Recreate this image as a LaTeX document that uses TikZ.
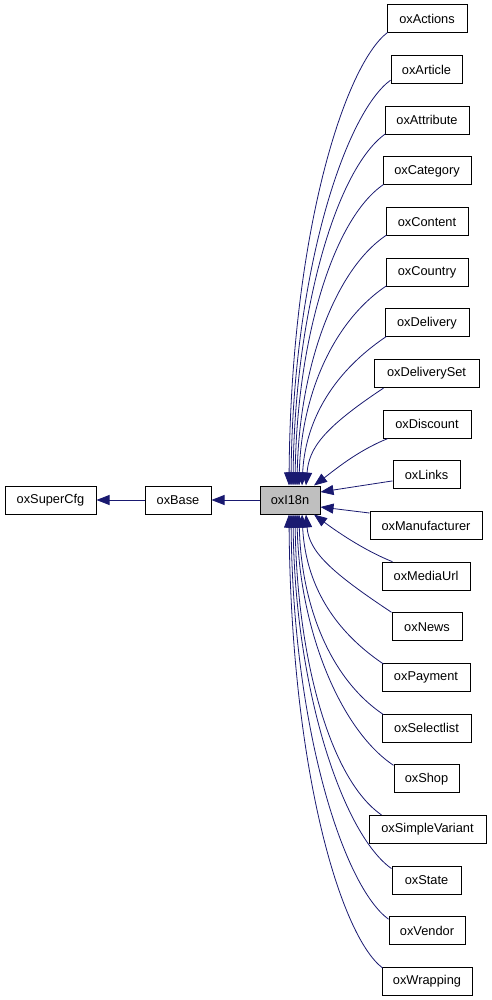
\documentclass[tikz,border=0pt]{standalone}
\usepackage{fontspec}
\setmainfont{Liberation Sans}
\usetikzlibrary{arrows.meta,calc}
\definecolor{navyc}{HTML}{191970}
\definecolor{grayc}{HTML}{BFBFBF}
\tikzset{
  box/.style={draw=black, line width=1pt, minimum height=28pt, inner sep=0pt,
    font=\fontsize{12.8}{14}\selectfont, text=black, fill=white},
  edge/.style={draw=navyc, line width=0.8pt, -{Triangle[length=13pt,width=10pt]}}
}
\begin{document}
\begin{tikzpicture}[x=1pt,y=-1pt]
\useasboundingbox (0,0) rectangle (491,1000);
% left chain
\node[box, minimum width=91pt] (super) at (50.5,500) {oxSuperCfg};
\node[box, minimum width=66pt] (base) at (178,500) {oxBase};
\node[box, minimum width=60pt, fill=grayc] (i18n) at (290,500) {oxI18n};
% children
\node[box, minimum width=80pt]  (c0)  at (427,19.0)  {oxActions};
\node[box, minimum width=71pt]  (c1)  at (426.5,69.7)  {oxArticle};
\node[box, minimum width=84pt]  (c2)  at (427,120.3) {oxAttribute};
\node[box, minimum width=88pt]  (c3)  at (427,171.0) {oxCategory};
\node[box, minimum width=82pt]  (c4)  at (427,221.6) {oxContent};
\node[box, minimum width=82pt]  (c5)  at (427,272.3) {oxCountry};
\node[box, minimum width=84pt]  (c6)  at (427,322.9) {oxDelivery};
\node[box, minimum width=105pt] (c7)  at (426.5,373.6) {oxDeliverySet};
\node[box, minimum width=88pt]  (c8)  at (427,424.2) {oxDiscount};
\node[box, minimum width=67pt]  (c9)  at (426.5,474.9) {oxLinks};
\node[box, minimum width=112pt] (c10) at (426,525.5) {oxManufacturer};
\node[box, minimum width=88pt]  (c11) at (426,576.2) {oxMediaUrl};
\node[box, minimum width=70pt]  (c12) at (427,626.8) {oxNews};
\node[box, minimum width=88pt]  (c13) at (426,677.5) {oxPayment};
\node[box, minimum width=89pt]  (c14) at (426.5,728.1) {oxSelectlist};
\node[box, minimum width=65pt]  (c15) at (426.5,778.8) {oxShop};
\node[box, minimum width=117pt] (c16) at (427.5,829.4) {oxSimpleVariant};
\node[box, minimum width=69pt]  (c17) at (426.5,880.1) {oxState};
\node[box, minimum width=76pt]  (c18) at (427,930.7) {oxVendor};
\node[box, minimum width=90pt]  (c19) at (427,981.4) {oxWrapping};
% left edges
\draw[edge] (base.west) -- (super.east);
\draw[edge] (i18n.west) -- (base.east);
% top children
\draw[edge] ($(c0.south west)+(1,-1)$) .. controls +(-42,32) and +(2,-255) .. ($(i18n.north)+(-1,0)$);
\draw[edge] ($(c1.south west)+(0,-4)$) .. controls +(-45,33) and +(2,-215) .. ($(i18n.north)+(1,0)$);
\draw[edge] ($(c2.south west)+(1,-1)$) .. controls +(-48,34) and +(2,-178) .. ($(i18n.north)+(3,0)$);
\draw[edge] ($(c3.south west)+(1,-1)$) .. controls +(-51,35) and +(2,-145) .. ($(i18n.north)+(5,0)$);
\draw[edge] ($(c4.south west)+(1,-1)$) .. controls +(-54,36) and +(2,-113) .. ($(i18n.north)+(7,0)$);
\draw[edge] ($(c5.south west)+(1,-1)$) .. controls +(-56,37.5) and +(2,-86) .. ($(i18n.north)+(9,0)$);
\draw[edge] ($(c6.south west)+(2,-1)$) .. controls +(-58,39) and +(3,-60) .. ($(i18n.north)+(12,0)$);
\draw[edge] ($(c7.south west)+(10,0)$) .. controls +(-61,40.5) and +(3,-37) .. ($(i18n.north)+(16,0)$);
\draw[edge] ($(c8.south west)+(5,0)$) .. controls +(-30,12) and +(20,-15) .. ($(i18n.north)+(24,0)$);
% middle children
\draw[edge] ($(c9.west)+(0,6)$) -- ($(i18n.east)+(0,-8)$);
\draw[edge] ($(c10.north west)+(0,2)$) -- ($(i18n.east)+(0,7)$);
% bottom children
\draw[edge] ($(c11.north west)+(11,0)$) .. controls +(-30,-12) and +(20,15) .. ($(i18n.south)+(24,0)$);
\draw[edge] ($(c12.north west)+(0,0)$) .. controls +(-61,-40.5) and +(3,37) .. ($(i18n.south)+(16,0)$);
\draw[edge] ($(c13.north west)+(2,1)$) .. controls +(-58,-39) and +(3,60) .. ($(i18n.south)+(12,0)$);
\draw[edge] ($(c14.north west)+(2,1)$) .. controls +(-56,-37.5) and +(2,86) .. ($(i18n.south)+(9,0)$);
\draw[edge] ($(c15.north west)+(0,1)$) .. controls +(-54,-36) and +(2,113) .. ($(i18n.south)+(7,0)$);
\draw[edge] ($(c16.north west)+(13,0)$) .. controls +(-51,-35) and +(2,145) .. ($(i18n.south)+(5,0)$);
\draw[edge] ($(c17.north west)+(0,3)$) .. controls +(-48,-34) and +(2,178) .. ($(i18n.south)+(3,0)$);
\draw[edge] ($(c18.north west)+(0,3)$) .. controls +(-45,-33) and +(2,215) .. ($(i18n.south)+(1,0)$);
\draw[edge] ($(c19.north west)+(1,1)$) .. controls +(-42,-32) and +(2,255) .. ($(i18n.south)+(-1,0)$);
\end{tikzpicture}
\end{document}
